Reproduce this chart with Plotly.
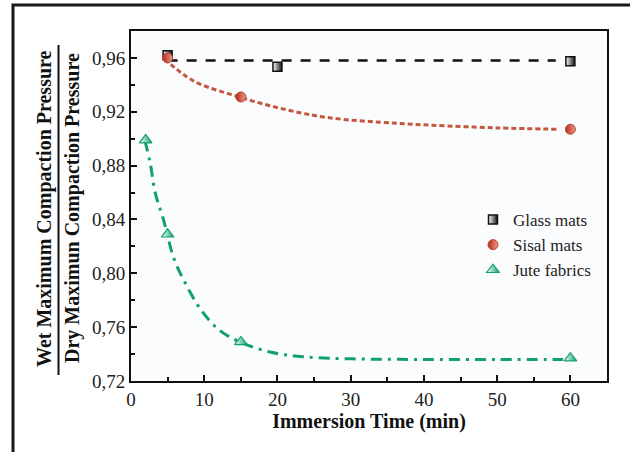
import plotly.graph_objects as go

# ---- data ----
glass_t = [5, 20, 60]
glass_v = [0.962, 0.9535, 0.9575]
sisal_t = [5, 15, 60]
sisal_v = [0.960, 0.931, 0.907]
jute_t = [2, 5, 15, 60]
jute_v = [0.899, 0.829, 0.749, 0.737]

# fitted curves
glass_fit_t = [5, 58]
glass_fit_v = [0.958, 0.958]
sisal_fit_t = [4.6, 8.5, 14.6, 20.8, 27.1, 36.2, 41.2, 50, 58.5]
sisal_fit_v = [0.9593, 0.943, 0.9313, 0.922, 0.9155, 0.9115, 0.910, 0.908, 0.907]
jute_fit_t = [1.9, 2.6, 3.3, 4.4, 5.8, 7.1, 9.6, 12.1, 14.9, 19, 23.5, 30, 40, 50, 59]
jute_fit_v = [0.8986, 0.8825, 0.860, 0.8405, 0.812, 0.796, 0.7725, 0.7576, 0.749,
              0.7415, 0.738, 0.7365, 0.736, 0.736, 0.736]

x_ticks = [0, 10, 20, 30, 40, 50, 60]
y_ticks = [0.72, 0.76, 0.80, 0.84, 0.88, 0.92, 0.96]

FONT = "Liberation Serif"
GLASS = "#111111"
SISAL_LINE = "#c4573f"
SISAL_MK = "#b32a1c"
JUTE = "#12a070"

fig = go.Figure()

# fit lines
fig.add_trace(go.Scatter(x=glass_fit_t, y=glass_fit_v, mode="lines", showlegend=False,
                         line=dict(color=GLASS, width=2.5, dash="10px,9px"), hoverinfo="skip"))
fig.add_trace(go.Scatter(x=sisal_fit_t, y=sisal_fit_v, mode="lines", showlegend=False,
                         line=dict(color=SISAL_LINE, width=3, dash="5px,3px", shape="spline"),
                         hoverinfo="skip"))
fig.add_trace(go.Scatter(x=jute_fit_t, y=jute_fit_v, mode="lines", showlegend=False,
                         line=dict(color=JUTE, width=3, dash="11px,6px,3px,6px", shape="spline"),
                         hoverinfo="skip"))

# data markers (half-filled look via horizontal gradient)
fig.add_trace(go.Scatter(x=glass_t, y=glass_v, mode="markers", name="Glass mats",
                         legendgroup="g",
                         marker=dict(symbol="square", size=9, color="white",
                                     gradient=dict(type="horizontal", color=GLASS),
                                     line=dict(color=GLASS, width=1.5))))
fig.add_trace(go.Scatter(x=sisal_t, y=sisal_v, mode="markers", name="Sisal mats",
                         legendgroup="s",
                         marker=dict(symbol="circle", size=10, color=SISAL_MK,
                                     gradient=dict(type="horizontal", color="#e89a88"),
                                     line=dict(color="#c04030", width=1))))
fig.add_trace(go.Scatter(x=jute_t, y=jute_v, mode="markers", name="Jute fabrics",
                         legendgroup="j",
                         marker=dict(symbol="triangle-up", size=11, color="white",
                                     gradient=dict(type="horizontal", color=JUTE),
                                     line=dict(color=JUTE, width=1.2))))

W, H = 630, 452
L, R, T, B = 131, 23, 31, 71
pw = W - L - R
ph = H - T - B

def px_x(p):
    return (p - L) / pw

def px_y(p):
    return (H - B - p) / ph

axis_common = dict(showline=True, linecolor="#111", linewidth=2, mirror=True,
                   ticks="inside", ticklen=6, tickwidth=2, tickcolor="#111",
                   showgrid=False, zeroline=False,
                   tickfont=dict(family=FONT, size=19, color="#222"))

fig.update_layout(
    width=W, height=H,
    margin=dict(l=L, r=R, t=T, b=B),
    paper_bgcolor="white",
    plot_bgcolor="#fbfcfe",
    separators=",.",
    font=dict(family=FONT, color="#111"),
    xaxis=dict(range=[0, 65], tickvals=x_ticks,
               minor=dict(ticks="inside", ticklen=4, tickwidth=2, tickcolor="#111", dtick=5, tick0=0),
               title=dict(text="<b>Immersion Time (min)</b>", font=dict(family=FONT, size=20), standoff=2),
               **axis_common),
    yaxis=dict(range=[0.72, 0.98], tickvals=y_ticks, tickformat=".2f",
               minor=dict(ticks="inside", ticklen=4, tickwidth=2, tickcolor="#111", dtick=0.02, tick0=0.72),
               **axis_common),
    legend=dict(x=px_x(473), y=px_y(202), xanchor="left", yanchor="top",
                bgcolor="rgba(0,0,0,0)", font=dict(family=FONT, size=17, color="#222"),
                tracegroupgap=0, itemwidth=30),
    showlegend=True,
)

# y-axis fraction title
fig.add_annotation(text="<b>Wet Maximum Compaction Pressure</b>", textangle=-90,
                   xref="paper", yref="paper", x=px_x(44), y=px_y(209),
                   xanchor="center", yanchor="middle",
                   showarrow=False, font=dict(family=FONT, size=20, color="#111"))
fig.add_annotation(text="<b>Dry Maximun Compaction Pressure</b>", textangle=-90,
                   xref="paper", yref="paper", x=px_x(72), y=px_y(208),
                   xanchor="center", yanchor="middle",
                   showarrow=False, font=dict(family=FONT, size=20, color="#111"))
fig.add_shape(type="line", xref="paper", yref="paper",
              x0=px_x(58.5), x1=px_x(58.5), y0=px_y(45), y1=px_y(375),
              line=dict(color="#111", width=2))

# outer frame
fig.add_shape(type="rect", xref="paper", yref="paper",
              x0=px_x(13), x1=px_x(640), y0=px_y(470), y1=px_y(5),
              line=dict(color="#1a1a1a", width=3), fillcolor="rgba(0,0,0,0)", layer="below")

fig.write_html("out.html", config={"displayModeBar": False},
               post_script="document.body.style.margin='0';")
